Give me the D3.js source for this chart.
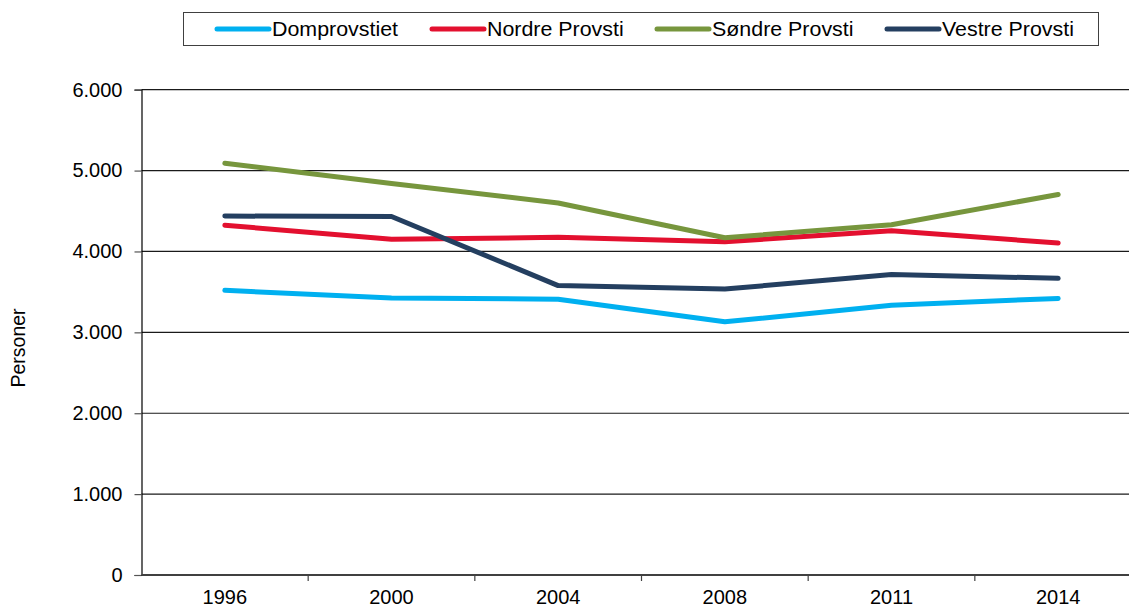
<!DOCTYPE html>
<html>
<head>
<meta charset="utf-8">
<script src="https://cdn.jsdelivr.net/npm/d3@7"></script>
<style>
  body { margin: 0; background: #fff; }
  svg { display: block; font-family: "Liberation Sans", Arial, sans-serif; }
</style>
</head>
<body>
<svg id="chart"></svg>
<script>
const years = ["1996", "2000", "2004", "2008", "2011", "2014"];
const domprovstiet = [3520, 3425, 3410, 3130, 3335, 3420];
const nordre = [4325, 4150, 4175, 4120, 4255, 4105];
const sondre = [5090, 4840, 4600, 4170, 4330, 4705];
const vestre = [4438, 4432, 3578, 3535, 3715, 3668];
const yTicks = [0, 1000, 2000, 3000, 4000, 5000, 6000];

const series = [
  { name: "Domprovstiet", values: domprovstiet, color: "#00B0F0" },
  { name: "Nordre Provsti", values: nordre, color: "#E3102F" },
  { name: "Søndre Provsti", values: sondre, color: "#77963D" },
  { name: "Vestre Provsti", values: vestre, color: "#243F60" }
];

const width = 1129;
const height = 608;
const margin = { top: 89.7, left: 141.5 };
const plotWidth = 1000;
const plotBottom = 575;

const svg = d3.select("#chart").attr("width", width).attr("height", height);

const x = d3.scaleBand().domain(years).range([margin.left, margin.left + plotWidth]).padding(0);
const y = d3.scaleLinear().domain([0, 6000]).range([plotBottom, margin.top]);

const fmt = v => d3.format(",")(v).replace(/,/g, ".");

// gridlines
svg.append("g")
  .selectAll("line")
  .data(yTicks.filter(d => d > 0))
  .enter()
  .append("line")
  .attr("x1", margin.left)
  .attr("x2", margin.left + plotWidth)
  .attr("y1", d => y(d))
  .attr("y2", d => y(d))
  .attr("stroke", "#1a1a1a")
  .attr("stroke-width", 1.2);

// y axis
const yAxis = svg.append("g")
  .attr("transform", `translate(${margin.left},0)`)
  .call(d3.axisLeft(y).tickValues(yTicks).tickSize(7).tickPadding(12).tickFormat(fmt));
yAxis.select(".domain").attr("stroke", "#000").attr("stroke-width", 1.2);
yAxis.selectAll(".tick line").attr("stroke", "#555").attr("stroke-width", 1.2);
yAxis.selectAll("text").attr("font-size", "20px").attr("fill", "#000");

// x axis: labels centred in bands, ticks at band boundaries
const xAxis = svg.append("g")
  .attr("transform", `translate(0,${plotBottom})`)
  .call(d3.axisBottom(x).tickSize(0).tickPadding(15));
xAxis.select(".domain").remove();
xAxis.selectAll("text").attr("font-size", "20px").attr("fill", "#000");

xAxis.append("line")
  .attr("x1", margin.left)
  .attr("x2", margin.left + plotWidth)
  .attr("stroke", "#404040")
  .attr("stroke-width", 2);

xAxis.selectAll(".bound")
  .data(years.slice(1))
  .enter()
  .append("line")
  .attr("class", "bound")
  .attr("x1", d => x(d))
  .attr("x2", d => x(d))
  .attr("y1", 0)
  .attr("y2", 6)
  .attr("stroke", "#404040")
  .attr("stroke-width", 1.2);

// y axis title
svg.append("text")
  .attr("transform", "translate(25,348) rotate(-90)")
  .attr("text-anchor", "middle")
  .attr("font-size", "19.5px")
  .attr("fill", "#000")
  .text("Personer");

// lines
const line = d3.line()
  .x((d, i) => x(years[i]) + x.bandwidth() / 2)
  .y(d => y(d));

svg.append("g")
  .selectAll("path")
  .data(series)
  .enter()
  .append("path")
  .attr("d", d => line(d.values))
  .attr("fill", "none")
  .attr("stroke", d => d.color)
  .attr("stroke-width", 5)
  .attr("stroke-linejoin", "round")
  .attr("stroke-linecap", "round");

// legend
const legend = svg.append("g");
legend.append("rect")
  .attr("x", 183.5)
  .attr("y", 12.5)
  .attr("width", 915)
  .attr("height", 33)
  .attr("fill", "#fff")
  .attr("stroke", "#404040")
  .attr("stroke-width", 1);

const legendX = [215, 430, 655, 885];
const items = legend.selectAll(".item")
  .data(series)
  .enter()
  .append("g")
  .attr("transform", (d, i) => `translate(${legendX[i]},29)`);

items.append("line")
  .attr("x1", 2)
  .attr("x2", 54)
  .attr("stroke", d => d.color)
  .attr("stroke-width", 5)
  .attr("stroke-linecap", "round");

items.append("text")
  .attr("transform", "translate(57,0) scale(1.07,1)")
  .attr("dy", "0.35em")
  .attr("font-size", "20px")
  .attr("fill", "#000")
  .text(d => d.name);
</script>
</body>
</html>
